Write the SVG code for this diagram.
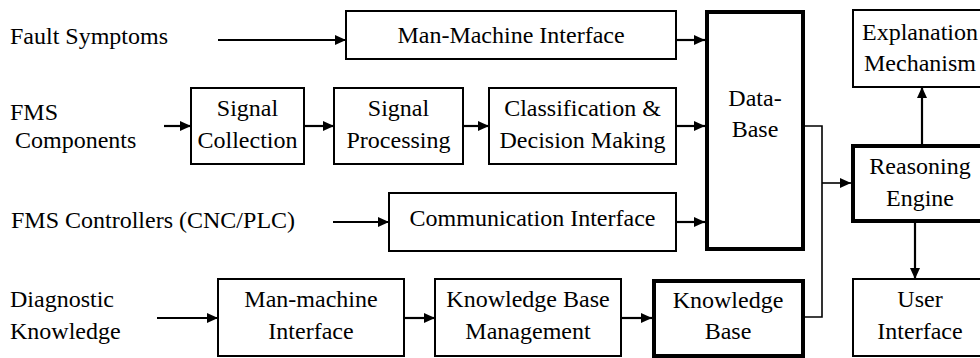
<svg xmlns="http://www.w3.org/2000/svg" width="980" height="358" viewBox="0 0 980 358">
  <defs>
    <marker id="arrow" markerUnits="userSpaceOnUse" markerWidth="12" markerHeight="11" refX="11" refY="5" orient="auto">
      <path d="M0,0 L11,5 L0,10 Z" fill="#000"/>
    </marker>
  </defs>
  <rect width="980" height="358" fill="#fff"/>

  <!-- input labels -->
  <g id="inputs" font-size="24" fill="#000">
    <text x="10" y="44" style="font-family:'Liberation Serif',serif">Fault Symptoms</text>
    <text x="10" y="120" style="font-family:'Liberation Serif',serif">FMS</text>
    <text x="15" y="148" style="font-family:'Liberation Serif',serif">Components</text>
    <text x="11" y="228" style="font-family:'Liberation Serif',serif">FMS Controllers (CNC/PLC)</text>
    <text x="10" y="307" style="font-family:'Liberation Serif',serif">Diagnostic</text>
    <text x="10" y="339" style="font-family:'Liberation Serif',serif">Knowledge</text>
  </g>

  <!-- plain boxes: 2px outline; bold boxes: 4px outline -->
  <g font-size="24" fill="#000" text-anchor="middle">
    <g id="mmi-top">
      <rect x="346" y="11" width="330" height="48" fill="#fff" stroke="#000" stroke-width="2"/>
      <text x="511" y="43" style="font-family:'Liberation Serif',serif">Man-Machine Interface</text>
    </g>

    <g id="signal-collection">
      <rect x="191" y="88" width="113" height="76" fill="#fff" stroke="#000" stroke-width="2"/>
      <text x="247.5" y="116" style="font-family:'Liberation Serif',serif">Signal</text>
      <text x="247.5" y="148" style="font-family:'Liberation Serif',serif">Collection</text>
    </g>

    <g id="signal-processing">
      <rect x="334" y="88" width="129" height="76" fill="#fff" stroke="#000" stroke-width="2"/>
      <text x="398.5" y="116" style="font-family:'Liberation Serif',serif">Signal</text>
      <text x="398.5" y="148" style="font-family:'Liberation Serif',serif">Processing</text>
    </g>

    <g id="classification">
      <rect x="489" y="88" width="187" height="76" fill="#fff" stroke="#000" stroke-width="2"/>
      <text x="582.5" y="116" style="font-family:'Liberation Serif',serif">Classification &amp;</text>
      <text x="582.5" y="148" style="font-family:'Liberation Serif',serif">Decision Making</text>
    </g>

    <g id="comm-interface">
      <rect x="389" y="193" width="287" height="58" fill="#fff" stroke="#000" stroke-width="2"/>
      <text x="532.5" y="226" style="font-family:'Liberation Serif',serif">Communication Interface</text>
    </g>

    <g id="mmi-bottom">
      <rect x="218" y="279" width="186" height="77" fill="#fff" stroke="#000" stroke-width="2"/>
      <text x="311" y="307" style="font-family:'Liberation Serif',serif">Man-machine</text>
      <text x="311" y="339" style="font-family:'Liberation Serif',serif">Interface</text>
    </g>

    <g id="kb-management">
      <rect x="435" y="279" width="186" height="77" fill="#fff" stroke="#000" stroke-width="2"/>
      <text x="528" y="307" style="font-family:'Liberation Serif',serif">Knowledge Base</text>
      <text x="528" y="339" style="font-family:'Liberation Serif',serif">Management</text>
    </g>

    <g id="knowledge-base">
      <rect x="654" y="281" width="149" height="75" fill="#fff" stroke="#000" stroke-width="4"/>
      <text x="728" y="308" style="font-family:'Liberation Serif',serif">Knowledge</text>
      <text x="728" y="339" style="font-family:'Liberation Serif',serif">Base</text>
    </g>

    <g id="data-base">
      <rect x="707" y="12" width="96" height="237" fill="#fff" stroke="#000" stroke-width="4"/>
      <text x="755" y="106" style="font-family:'Liberation Serif',serif">Data-</text>
      <text x="755" y="137" style="font-family:'Liberation Serif',serif">Base</text>
    </g>

    <g id="reasoning-engine">
      <rect x="853" y="146" width="140" height="75" fill="#fff" stroke="#000" stroke-width="4"/>
      <text x="920" y="174" style="font-family:'Liberation Serif',serif">Reasoning</text>
      <text x="920" y="206" style="font-family:'Liberation Serif',serif">Engine</text>
    </g>

    <g id="explanation">
      <rect x="853" y="10" width="140" height="77" fill="#fff" stroke="#000" stroke-width="2"/>
      <text x="920" y="40" style="font-family:'Liberation Serif',serif">Explanation</text>
      <text x="920" y="71" style="font-family:'Liberation Serif',serif">Mechanism</text>
    </g>

    <g id="user-interface">
      <rect x="853" y="279" width="140" height="77" fill="#fff" stroke="#000" stroke-width="2"/>
      <text x="920" y="307" style="font-family:'Liberation Serif',serif">User</text>
      <text x="920" y="339" style="font-family:'Liberation Serif',serif">Interface</text>
    </g>
  </g>

  <!-- connectors -->
  <g id="connectors" fill="none" stroke="#000">
    <g stroke-width="2.2" marker-end="url(#arrow)">
      <line x1="218" y1="40" x2="346" y2="40"/>
      <line x1="676" y1="40" x2="705" y2="40"/>
      <line x1="164" y1="126" x2="191" y2="126"/>
      <line x1="304" y1="126" x2="334" y2="126"/>
      <line x1="463" y1="126" x2="489" y2="126"/>
      <line x1="676" y1="126" x2="705" y2="126"/>
      <line x1="333" y1="222" x2="389" y2="222"/>
      <line x1="676" y1="222" x2="705" y2="222"/>
      <line x1="157" y1="318" x2="218" y2="318"/>
      <line x1="404" y1="318" x2="435" y2="318"/>
      <line x1="621" y1="318" x2="652" y2="318"/>
      <line x1="922" y1="144" x2="922" y2="87"/>
      <line x1="915" y1="223" x2="915" y2="279"/>
    </g>
    <g stroke-width="1.6">
      <polyline points="805,126 822,126 822,317 805,317"/>
      <line x1="822" y1="183" x2="851" y2="183" marker-end="url(#arrow)"/>
    </g>
  </g>
</svg>
